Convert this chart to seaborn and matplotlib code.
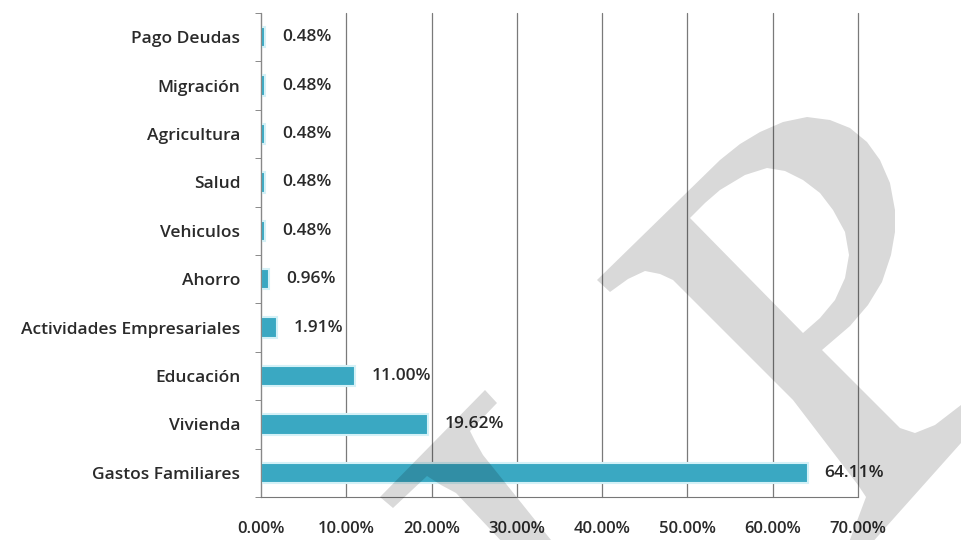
import matplotlib
matplotlib.use("Agg")
import matplotlib.pyplot as plt
import seaborn as sns
import pandas as pd
import numpy as np
from matplotlib.ticker import FixedLocator
from matplotlib.path import Path
from matplotlib.patches import PathPatch

categories = ["Pago Deudas", "Migración", "Agricultura", "Salud", "Vehiculos",
              "Ahorro", "Actividades Empresariales", "Educación", "Vivienda",
              "Gastos Familiares"]
values = [0.48, 0.48, 0.48, 0.48, 0.48, 0.96, 1.91, 11.00, 19.62, 64.11]
value_labels = ["0.48%", "0.48%", "0.48%", "0.48%", "0.48%", "0.96%", "1.91%",
                "11.00%", "19.62%", "64.11%"]
xticks = [0, 10, 20, 30, 40, 50, 60, 70]
xtick_labels = ["0.00%", "10.00%", "20.00%", "30.00%", "40.00%", "50.00%", "60.00%", "70.00%"]

df = pd.DataFrame({"cat": categories, "val": values})

sns.set_style("white")
plt.rcParams["font.family"] = ["Open Sans", "DejaVu Sans"]

W, H = 961, 540
fig = plt.figure(figsize=(W / 100, H / 100), dpi=100)
ax = fig.add_axes([261 / W, 1 - 497 / H, (858 - 261) / W, (497 - 13) / H])

sns.barplot(data=df, x="val", y="cat", order=categories, color="#3AA8C2",
            saturation=1, width=0.42, edgecolor="#d4f1f7", linewidth=1.5, ax=ax)

FS = 12.5
FW = "semibold"
TXT = "#2a2a2a"
ax.set_xlim(0, 70)
ax.set_ylim(len(categories) - 0.5, -0.5)
ax.set_xticks(xticks)
ax.set_xticklabels(xtick_labels, fontsize=12, color=TXT, fontweight=FW)
ax.tick_params(axis="x", length=4, pad=13, color="#555555")
ax.set_yticks(range(len(categories)))
ax.set_yticklabels(categories, fontsize=FS, color=TXT, fontweight=FW)
ax.tick_params(axis="y", which="major", length=0, pad=15)
ax.yaxis.set_minor_locator(FixedLocator(np.arange(-0.5, len(categories), 1.0)))
ax.tick_params(axis="y", which="minor", length=4, color="#777777", left=True)
ax.set_xlabel("")
ax.set_ylabel("")

ax.xaxis.grid(True, color="#7a7a7a", linewidth=0.9)
for gl in ax.get_xgridlines():
    gl.set_clip_on(False)
ax.set_axisbelow(True)
for s in ["top", "right"]:
    ax.spines[s].set_visible(False)
ax.spines["left"].set_color("#888888")
ax.spines["bottom"].set_color("#777777")

for i, (v, lab) in enumerate(zip(values, value_labels)):
    ax.annotate(lab, xy=(v, i), xytext=(12, 0), textcoords="offset points",
                ha="left", va="center", fontsize=FS, color=TXT, fontweight=FW)

# ---- watermark (decorative overlay, pixel outline) ----
def to_fig(pts):
    a = np.asarray(pts, dtype=float)
    return np.column_stack([a[:, 0] / W, 1 - a[:, 1] / H])

def area(p):
    x, y = p[:, 0], p[:, 1]
    return 0.5 * np.sum(x * np.roll(y, -1) - np.roll(x, -1) * y)

def compound(outer, holes=()):
    o = to_fig(outer)
    if area(o) < 0:
        o = o[::-1]
    verts, codes = [], []
    def add(p):
        verts.extend(list(p) + [p[0]])
        codes.extend([Path.MOVETO] + [Path.LINETO] * (len(p) - 1) + [Path.CLOSEPOLY])
    add(o)
    for h in holes:
        hp = to_fig(h)
        if area(hp) > 0:
            hp = hp[::-1]
        add(hp)
    return Path(verts, codes)

t_shape = [(380, 497), (485, 390), (497, 403), (470, 431), (475, 441), (483, 455),
           (555, 545), (505, 545), (456, 493), (441, 485), (427, 476), (393, 508)]
p_outer = [(597, 280), (720, 160), (740, 144), (760, 132), (783, 122), (807, 117),
           (830, 120), (850, 128), (867, 142), (880, 160), (890, 183), (895, 210),
           (895, 232), (891, 255), (882, 282), (868, 305), (850, 326), (822, 350),
           (900, 428), (915, 433), (935, 425), (961, 405), (961, 443), (870, 545),
           (848, 545), (866, 497), (858, 485), (793, 400), (673, 280), (660, 274),
           (645, 271), (628, 279), (610, 292)]
p_hole = [(690, 218), (705, 203), (720, 190), (745, 175), (767, 168), (785, 171),
          (803, 180), (820, 193), (833, 210), (845, 232), (849, 255), (845, 278),
          (835, 300), (820, 318), (803, 333)]

for path in (compound(t_shape), compound(p_outer, [p_hole])):
    fig.patches.append(PathPatch(path, transform=fig.transFigure, facecolor="black",
                                 edgecolor="none", alpha=0.15, zorder=10))

fig.savefig("out.png", dpi=100)
